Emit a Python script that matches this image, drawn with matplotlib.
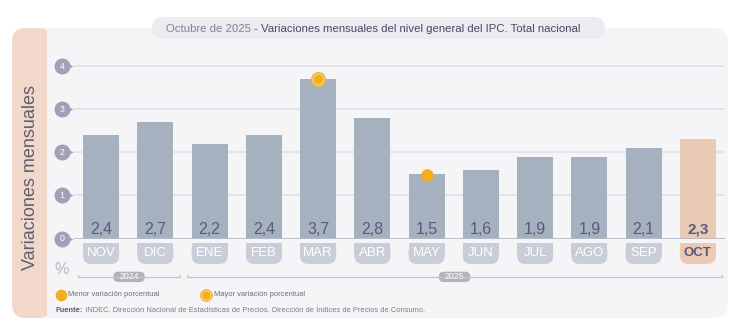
import numpy as np
import matplotlib
matplotlib.use("Agg")
import matplotlib.pyplot as plt
from matplotlib.patches import FancyBboxPatch, Rectangle

plt.rcParams['font.family'] = ['Liberation Sans', 'DejaVu Sans']

# datos
meses = ['NOV', 'DIC', 'ENE', 'FEB', 'MAR', 'ABR', 'MAY', 'JUN', 'JUL', 'AGO', 'SEP', 'OCT']
variacion = [2.4, 2.7, 2.2, 2.4, 3.7, 2.8, 1.5, 1.6, 1.9, 1.9, 2.1, 2.3]
anios = [('2024', 0, 1), ('2025', 2, 11)]
yticks = [0, 1, 2, 3, 4]
idx_mayor = int(np.argmax(variacion))
idx_menor = int(np.argmin(variacion))
idx_actual = len(meses) - 1

# colores
c_panel = '#f5f5f8'
c_franja = '#f1d8cb'
c_barra = '#a6b1bf'
c_barra_act = '#e8cab5'
c_tab = '#c8cdd8'
c_tab_act = '#ecc9b3'
c_texto = '#555c7a'
c_grid = '#e3e3e9'
c_eje = '#b9bac4'
c_tick = '#a0a1b6'
c_naranja = '#f0b01e'


def marca_mayor(axe, x, y, k=1.0, **kw):
    axe.scatter([x], [y], s=95 * k, color='#f2b52c', zorder=5, **kw)
    axe.scatter([x], [y], s=58 * k, color='#f9d98c', zorder=5, **kw)
    axe.scatter([x], [y], s=36 * k, color=c_naranja, zorder=5, **kw)


W, H = 730, 328
fig = plt.figure(figsize=(W / 100, H / 100), dpi=100)

# fondo en pixeles
bg = fig.add_axes([0, 0, 1, 1])
bg.set_xlim(0, W)
bg.set_ylim(H, 0)
bg.axis('off')

bg.add_patch(FancyBboxPatch((12, 28), 716, 290, boxstyle='round,pad=0,rounding_size=14',
                            fc=c_panel, ec='none'))
bg.add_patch(FancyBboxPatch((12, 28), 40, 290, boxstyle='round,pad=0,rounding_size=14',
                            fc=c_franja, ec='none'))
bg.add_patch(Rectangle((47, 28), 8, 290, fc=c_panel, ec='none'))

# titulo
bg.add_patch(FancyBboxPatch((152, 17), 453, 22, boxstyle='round,pad=0,rounding_size=11',
                            fc='#ebebf0', ec='none'))
t1 = bg.text(166, 28.5, 'Octubre de 2025', fontsize=8.2, color='#80809a',
             va='center', ha='left')
bg.annotate(' - Variaciones mensuales del nivel general del IPC. Total nacional',
            xy=(1, 0.5), xycoords=t1, va='center', ha='left', fontsize=8.2,
            color='#484866')

bg.text(31, 178, 'Variaciones mensuales', rotation=90, fontsize=13, color='#5e5e72',
        ha='center', va='center')

# leyenda
bg.scatter([60.5], [294.5], s=55, color=c_naranja, zorder=3)
bg.text(67.5, 294.5, 'Menor variación porcentual', fontsize=5.4, color='#6b6b80', va='center')
marca_mayor(bg, 206, 294.5, k=0.7)
bg.text(213.5, 294.5, 'Mayor variación porcentual', fontsize=5.4, color='#6b6b80', va='center')
t2 = bg.text(56, 310, 'Fuente:', fontsize=5.4, color=c_texto, fontweight='bold', va='center')
bg.annotate(' INDEC, Dirección Nacional de Estadísticas de Precios. Dirección de Índices de Precios de Consumo.',
            xy=(1, 0.5), xycoords=t2, va='center', ha='left', fontsize=5.4, color='#7a7a90')

# grafico de barras
x0_px, x1_px = 74, 725
y0_px, unidad = 238.5, 43.1
ymax = 4.25
ax = fig.add_axes([x0_px / W, (H - y0_px) / H, (x1_px - x0_px) / W, ymax * unidad / H])
ax.set_facecolor('none')
ax.set_xlim(-0.5, len(meses) - 0.5)
ax.set_ylim(0, ymax)
for s in ax.spines.values():
    s.set_visible(False)
ax.set_xticks([])
ax.set_yticks([])

for v in yticks[1:]:
    ax.axhline(v, color=c_grid, lw=1.3, zorder=0)
ax.axhline(0, color=c_eje, lw=1.3, zorder=3)

x = np.arange(len(meses))
colores = [c_barra_act if i == idx_actual else c_barra for i in x]
ax.bar(x, variacion, width=0.665, color=colores, zorder=2)

# unidades y por unidad x a igual distancia en pixeles
asp = (x1_px - x0_px) / len(meses) / unidad

for i, (m, v) in enumerate(zip(meses, variacion)):
    act = i == idx_actual
    ax.text(i, 0.21, f'{v:.1f}'.replace('.', ','), ha='center', va='center',
            fontsize=11.5 if not act else 11, color=c_texto,
            fontweight='bold' if act else 'normal', zorder=4)
    fc = c_tab_act if act else c_tab
    ax.add_patch(FancyBboxPatch((i - 0.3325, -0.59), 0.665, 0.485,
                                boxstyle='round,pad=0,rounding_size=0.15',
                                mutation_aspect=asp, fc=fc, ec='none', clip_on=False))
    ax.add_patch(Rectangle((i - 0.3325, -0.35), 0.665, 0.245, fc=fc, ec='none', clip_on=False))
    ax.text(i, -0.345, m, ha='center', va='center', fontsize=9.5,
            color=c_texto if act else 'white', fontweight='bold' if act else 'normal',
            clip_on=False)

# marcas mayor / menor
marca_mayor(ax, idx_mayor, variacion[idx_mayor], clip_on=False)
ax.scatter([idx_menor], [variacion[idx_menor] - 0.03], s=65, color=c_naranja, zorder=5,
           clip_on=False)

# marcas del eje y
xt = -0.5 - 12 / (x1_px - x0_px) * len(meses)
for v in yticks:
    ax.plot([xt + 0.1], [v], marker='>', ms=8.5, color=c_tick, clip_on=False, zorder=4, mec='none')
    ax.plot([xt], [v], marker='o', ms=11.5, color=c_tick, clip_on=False, zorder=4, mec='none')
    ax.text(xt, v, str(v), ha='center', va='center', fontsize=6.3, color='white',
            clip_on=False, zorder=5)
ax.text(xt, -0.72, '%', ha='center', va='center', fontsize=11.5, color='#b8b8c6',
        clip_on=False)

# llaves de años
yb = -0.89
for nombre, a, b in anios:
    xa, xb = a - 0.42, b + 0.45
    ax.plot([xa, xa, xb, xb], [yb + 0.04, yb, yb, yb + 0.04], color='#c3c3cc', lw=0.9,
            clip_on=False)
    xc = (xa + xb) / 2
    ax.add_patch(FancyBboxPatch((xc - 0.29, yb - 0.12), 0.58, 0.24,
                                boxstyle='round,pad=0,rounding_size=0.09',
                                mutation_aspect=asp, fc='#b3b3bb', ec='none', clip_on=False))
    ax.text(xc, yb, nombre, ha='center', va='center', fontsize=6.3, color='white',
            clip_on=False)

fig.savefig('out.png', dpi=100, facecolor='white')
